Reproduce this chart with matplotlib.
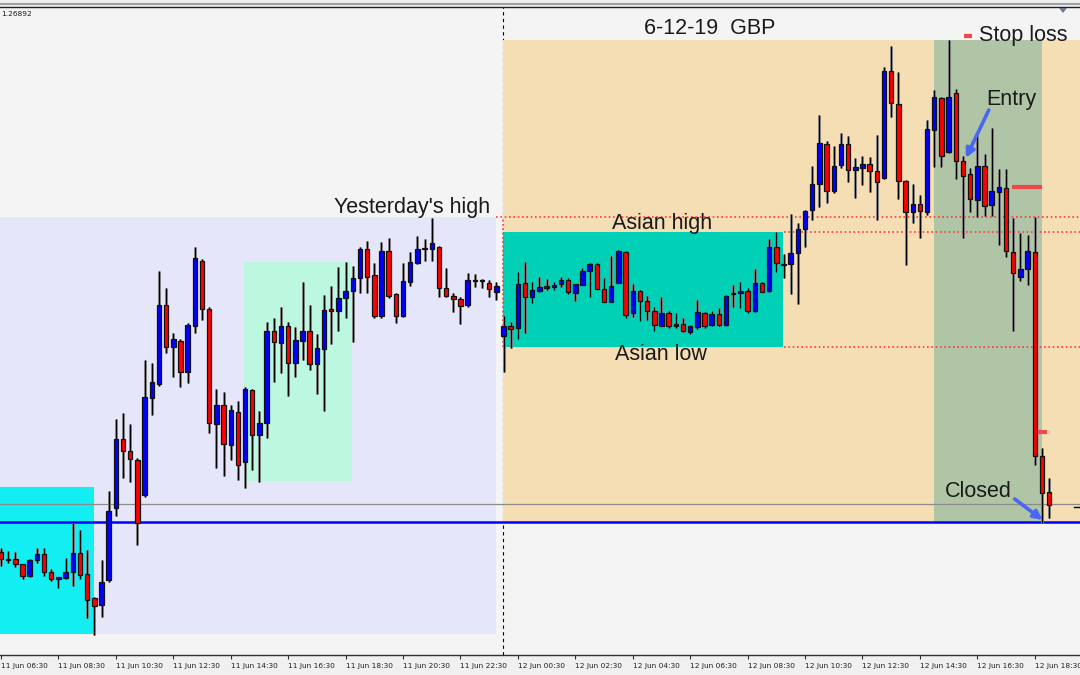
import matplotlib
matplotlib.use('Agg')
import matplotlib.pyplot as plt
from matplotlib.patches import Rectangle, Polygon

# ---------------- data (GBP, M15 candles from 11 Jun 06:30) ----------------
opens = [1.27448, 1.27440, 1.27441, 1.27436, 1.27424, 1.27440, 1.27446, 1.27428, 1.27421, 1.27422,
         1.27428, 1.27447, 1.27426, 1.27402, 1.27395, 1.27420, 1.27492, 1.27561, 1.27549, 1.27540,
         1.27505, 1.27602, 1.27616, 1.27695, 1.27653, 1.27659, 1.27628, 1.27674, 1.27739, 1.27691,
         1.27576, 1.27595, 1.27555, 1.27588, 1.27538, 1.27610, 1.27565, 1.27577, 1.27669, 1.27657,
         1.27674, 1.27637, 1.27659, 1.27669, 1.27636, 1.27651, 1.27691, 1.27689, 1.27702, 1.27709,
         1.27722, 1.27751, 1.27725, 1.27684, 1.27749, 1.27706, 1.27684, 1.27718, 1.27737, 1.27751,
         1.27751, 1.27753, 1.27712, 1.27704, 1.27701, 1.27695, 1.27719, 1.27720, 1.27717, 1.27708,
         1.27664, 1.27674, 1.27672, 1.27717, 1.27703, 1.27709, 1.27712, 1.27713, 1.27716, 1.27720,
         1.27707, 1.27715, 1.27729, 1.27736, 1.27711, 1.27698, 1.27717, 1.27748, 1.27687, 1.27709,
         1.27699, 1.27689, 1.27674, 1.27687, 1.27674, 1.27676, 1.27668, 1.27673, 1.27687, 1.27675,
         1.27686, 1.27675, 1.27706, 1.27707, 1.27709, 1.27689, 1.27717, 1.27709, 1.27753, 1.27735,
         1.27736, 1.27747, 1.27771, 1.27790, 1.27816, 1.27856, 1.27809, 1.27835, 1.27856, 1.27830,
         1.27832, 1.27836, 1.27829, 1.27822, 1.27929, 1.27896, 1.27819, 1.27788, 1.27796, 1.27788,
         1.27870, 1.27902, 1.27848, 1.27907, 1.27839, 1.27826, 1.27800, 1.27834, 1.27795, 1.27808,
         1.27812, 1.27748, 1.27723, 1.27731, 1.27748, 1.27544, 1.27508]
highs = [1.27452, 1.27449, 1.27448, 1.27436, 1.27441, 1.27452, 1.27452, 1.27431, 1.27423, 1.27442,
         1.27477, 1.27470, 1.27450, 1.27403, 1.27440, 1.27509, 1.27581, 1.27587, 1.27576, 1.27542,
         1.27640, 1.27637, 1.27729, 1.27712, 1.27667, 1.27661, 1.27677, 1.27753, 1.27741, 1.27693,
         1.27611, 1.27608, 1.27595, 1.27599, 1.27613, 1.27611, 1.27589, 1.27678, 1.27682, 1.27693,
         1.27678, 1.27673, 1.27718, 1.27695, 1.27666, 1.27705, 1.27714, 1.27733, 1.27738, 1.27734,
         1.27753, 1.27759, 1.27737, 1.27758, 1.27762, 1.27707, 1.27737, 1.27748, 1.27764, 1.27761,
         1.27782, 1.27754, 1.27732, 1.27707, 1.27703, 1.27727, 1.27726, 1.27721, 1.27720, 1.27718,
         1.27684, 1.27678, 1.27728, 1.27738, 1.27718, 1.27723, 1.27721, 1.27718, 1.27723, 1.27722,
         1.27716, 1.27732, 1.27737, 1.27737, 1.27722, 1.27744, 1.27750, 1.27749, 1.27716, 1.27710,
         1.27704, 1.27693, 1.27703, 1.27689, 1.27687, 1.27682, 1.27675, 1.27700, 1.27688, 1.27689,
         1.27692, 1.27705, 1.27715, 1.27718, 1.27712, 1.27731, 1.27718, 1.27761, 1.27768, 1.27746,
         1.27786, 1.27777, 1.27790, 1.27834, 1.27885, 1.27859, 1.27854, 1.27867, 1.27864, 1.27842,
         1.27844, 1.27843, 1.27865, 1.27933, 1.27954, 1.27928, 1.27820, 1.27816, 1.27805, 1.27880,
         1.27910, 1.27903, 1.27960, 1.27911, 1.27844, 1.27832, 1.27865, 1.27846, 1.27872, 1.27831,
         1.27831, 1.27782, 1.27767, 1.27765, 1.27783, 1.27552, 1.27522]
lows = [1.27434, 1.27437, 1.27433, 1.27421, 1.27423, 1.27437, 1.27424, 1.27419, 1.27412, 1.27421,
        1.27414, 1.27421, 1.27382, 1.27365, 1.27383, 1.27418, 1.27484, 1.27522, 1.27518, 1.27455,
        1.27503, 1.27585, 1.27614, 1.27647, 1.27623, 1.27613, 1.27617, 1.27667, 1.27680, 1.27567,
        1.27532, 1.27524, 1.27540, 1.27520, 1.27512, 1.27530, 1.27518, 1.27562, 1.27618, 1.27627,
        1.27604, 1.27623, 1.27640, 1.27630, 1.27606, 1.27589, 1.27656, 1.27669, 1.27682, 1.27658,
        1.27707, 1.27707, 1.27682, 1.27682, 1.27702, 1.27677, 1.27683, 1.27714, 1.27736, 1.27739,
        1.27739, 1.27703, 1.27703, 1.27688, 1.27676, 1.27693, 1.27713, 1.27712, 1.27703, 1.27700,
        1.27628, 1.27652, 1.27661, 1.27667, 1.27697, 1.27708, 1.27710, 1.27710, 1.27713, 1.27706,
        1.27699, 1.27715, 1.27703, 1.27711, 1.27698, 1.27698, 1.27717, 1.27682, 1.27683, 1.27679,
        1.27680, 1.27669, 1.27674, 1.27672, 1.27672, 1.27668, 1.27666, 1.27671, 1.27672, 1.27674,
        1.27674, 1.27674, 1.27693, 1.27692, 1.27687, 1.27688, 1.27708, 1.27708, 1.27728, 1.27722,
        1.27706, 1.27696, 1.27753, 1.27780, 1.27793, 1.27797, 1.27807, 1.27832, 1.27818, 1.27802,
        1.27815, 1.27808, 1.27780, 1.27821, 1.27883, 1.27801, 1.27735, 1.27777, 1.27762, 1.27785,
        1.27833, 1.27833, 1.27847, 1.27821, 1.27762, 1.27788, 1.27783, 1.27784, 1.27784, 1.27755,
        1.27743, 1.27669, 1.27719, 1.27715, 1.27535, 1.27477, 1.27482]
closes = [1.27441, 1.27441, 1.27436, 1.27424, 1.27440, 1.27446, 1.27428, 1.27421, 1.27423, 1.27428,
          1.27447, 1.27425, 1.27400, 1.27394, 1.27418, 1.27489, 1.27561, 1.27549, 1.27541, 1.27477,
          1.27603, 1.27618, 1.27695, 1.27653, 1.27661, 1.27628, 1.27675, 1.27742, 1.27691, 1.27577,
          1.27595, 1.27556, 1.27590, 1.27535, 1.27611, 1.27565, 1.27577, 1.27669, 1.27658, 1.27674,
          1.27637, 1.27660, 1.27669, 1.27636, 1.27652, 1.27690, 1.27689, 1.27702, 1.27709, 1.27722,
          1.27751, 1.27723, 1.27684, 1.27749, 1.27704, 1.27684, 1.27719, 1.27738, 1.27751, 1.27752,
          1.27757, 1.27712, 1.27704, 1.27701, 1.27694, 1.27720, 1.27720, 1.27719, 1.27711, 1.27714,
          1.27674, 1.27671, 1.27716, 1.27703, 1.27710, 1.27713, 1.27714, 1.27715, 1.27720, 1.27708,
          1.27716, 1.27729, 1.27736, 1.27711, 1.27698, 1.27714, 1.27749, 1.27685, 1.27709, 1.27699,
          1.27689, 1.27675, 1.27687, 1.27674, 1.27676, 1.27669, 1.27674, 1.27688, 1.27674, 1.27686,
          1.27675, 1.27704, 1.27707, 1.27709, 1.27689, 1.27717, 1.27708, 1.27753, 1.27737, 1.27736,
          1.27747, 1.27771, 1.27789, 1.27816, 1.27857, 1.27809, 1.27834, 1.27856, 1.27830, 1.27833,
          1.27836, 1.27829, 1.27818, 1.27929, 1.27897, 1.27819, 1.27788, 1.27796, 1.27789, 1.27871,
          1.27903, 1.27844, 1.27903, 1.27839, 1.27824, 1.27801, 1.27834, 1.27794, 1.27809, 1.27813,
          1.27749, 1.27727, 1.27731, 1.27749, 1.27544, 1.27507, 1.27495]

tick_labels = ['11 Jun 06:30', '11 Jun 08:30', '11 Jun 10:30', '11 Jun 12:30', '11 Jun 14:30',
               '11 Jun 16:30', '11 Jun 18:30', '11 Jun 20:30', '11 Jun 22:30', '12 Jun 00:30',
               '12 Jun 02:30', '12 Jun 04:30', '12 Jun 06:30', '12 Jun 08:30', '12 Jun 10:30',
               '12 Jun 12:30', '12 Jun 14:30', '12 Jun 16:30', '12 Jun 18:30']
bars_per_label = 8

yesterday_high = 1.27783
yesterday_low = 1.27366
asian_high = 1.27768
asian_low = 1.27653
blue_level = 1.27478
gray_level = 1.27496
stop_level = 1.27813
target_level = 1.27568
session_top = 1.27960
mint_top, mint_bottom = 1.27738, 1.27519
cyan_top = 1.27513

# ---------------- figure ----------------
W, H = 1080, 675
fig = plt.figure(figsize=(W / 100, H / 100), dpi=100, facecolor='#F0F0F0')
ax = fig.add_axes([0, 20 / H, 1, 648 / H])
ax.set_facecolor('#F4F4F4')

n = len(opens)
x_left, x_right = -0.14, 150.3
ax.set_xlim(x_left, x_right)
ax.set_ylim(1.27345, 1.27993)

# day separator (behind boxes)
ax.axvline(69.9, color='black', lw=0.8, ls=(0, (3, 3)), zorder=0.5)

def box(x0, x1, y0, y1, color):
    ax.add_patch(Rectangle((x0, y0), x1 - x0, y1 - y0, facecolor=color,
                           edgecolor='none', zorder=1))

box(x_left, 68.9, yesterday_low, yesterday_high, '#E6E6FA')
box(x_left, 12.9, yesterday_low, cyan_top, '#12EEF1')
box(33.85, 48.9, mint_bottom, mint_top, '#BCF8DF')
box(69.9, x_right + 1, blue_level, session_top, '#F5DEB3')
box(69.9, 108.95, asian_low, asian_high, '#00D0B6')
box(130.0, 145.0, blue_level, session_top, '#AFC5A6')

# levels
red_dot = dict(color='#FF3B3B', lw=1.2, ls=(0, (1, 1.6)), zorder=2)
ax.plot([68.9, x_right], [yesterday_high] * 2, **red_dot)
ax.plot([109.0, x_right], [asian_high] * 2, **red_dot)
ax.plot([109.0, x_right], [asian_low] * 2, **red_dot)
ax.plot([69.9, 69.9], [asian_low, yesterday_high], **red_dot)
ax.axhline(gray_level, color='#8C8C8C', lw=0.9, zorder=2)
ax.axhline(blue_level, color='#0000FF', lw=1.8, zorder=2)

# candles
body_w = 0.62
for i in range(n):
    o, h, l, c = opens[i], highs[i], lows[i], closes[i]
    ax.plot([i, i], [l, h], color='#8A8A8A', lw=2.0, zorder=3, solid_capstyle='butt')
    ax.plot([i, i], [l, h], color='black', lw=0.9, zorder=3.1, solid_capstyle='butt')
    fc = '#0000FF' if c >= o else '#FF0000'
    lo, hi = min(o, c), max(o, c)
    ax.add_patch(Rectangle((i - body_w / 2, lo), body_w, max(hi - lo, 0.000004),
                           facecolor=fc, edgecolor='#111111', lw=0.9, zorder=3.2))

# trade marks
ax.plot([140.8, 145.0], [stop_level] * 2, color='#F04848', lw=3, zorder=4, solid_capstyle='butt')
ax.plot([144.4, 145.7], [target_level] * 2, color='#F04848', lw=3, zorder=4, solid_capstyle='butt')
ax.plot([134.2, 135.3], [1.27964] * 2, color='#F04848', lw=3, zorder=4, solid_capstyle='butt')
ax.plot([149.4, x_right], [1.27493] * 2, color='black', lw=1, zorder=4)

# texts
tkw = dict(fontsize=15.5, color='#1A1A1A', family='Liberation Sans', zorder=5)
ax.text(98.7, 1.27972, '6-12-19  GBP', ha='center', va='center', **tkw)
ax.text(136.2, 1.27965, 'Stop loss', ha='left', va='center', **tkw)
ax.text(137.2, 1.27900, 'Entry', ha='left', va='center', **tkw)
ax.text(68.1, 1.27792, "Yesterday's high", ha='right', va='center', **tkw)
ax.text(92.1, 1.27776, 'Asian high', ha='center', va='center', **tkw)
ax.text(91.9, 1.27645, 'Asian low', ha='center', va='center', **tkw)
ax.text(131.5, 1.27508, 'Closed', ha='left', va='center', **tkw)

arrow = dict(arrowstyle='-|>', color='#4A66F2', lw=2.6, mutation_scale=13,
             shrinkA=0, shrinkB=0)
ax.annotate('', xy=(134.4, 1.27842), xytext=(137.6, 1.27890), arrowprops=arrow, zorder=5)
ax.annotate('', xy=(145.1, 1.27480), xytext=(141.2, 1.27501), arrowprops=arrow, zorder=5)

# axes styling
ticks = list(range(0, n, bars_per_label))[:len(tick_labels)]
ax.set_xticks(ticks)
ax.set_xticklabels(tick_labels, ha='left', fontsize=5.3, color='#202020', family='DejaVu Sans')
ax.tick_params(axis='x', length=3, width=0.8, pad=3, color='#303030')
ax.set_yticks([])
for s in ('left', 'right'):
    ax.spines[s].set_visible(False)
ax.spines['bottom'].set_color('#303030')
ax.spines['top'].set_color('#202020')
ax.spines['bottom'].set_linewidth(1.0)
ax.spines['top'].set_linewidth(1.0)

# window chrome at the top
fig.add_artist(plt.Line2D([0, 1], [1 - 4 / H] * 2, color='#A0A0A0', lw=1.5,
                          transform=fig.transFigure))
fig.add_artist(Polygon([[1059 / W, 1 - 8 / H], [1067 / W, 1 - 8 / H], [1063 / W, 1 - 13 / H]],
                       closed=True, facecolor='#6E7B8B', edgecolor='none',
                       transform=fig.transFigure))
fig.text(1 / W, 1 - 14 / H, '1.26892', fontsize=5.3, color='#1A1A1A',
         ha='left', va='center', family='DejaVu Sans')

fig.savefig('out.png', dpi=100, facecolor=fig.get_facecolor())
